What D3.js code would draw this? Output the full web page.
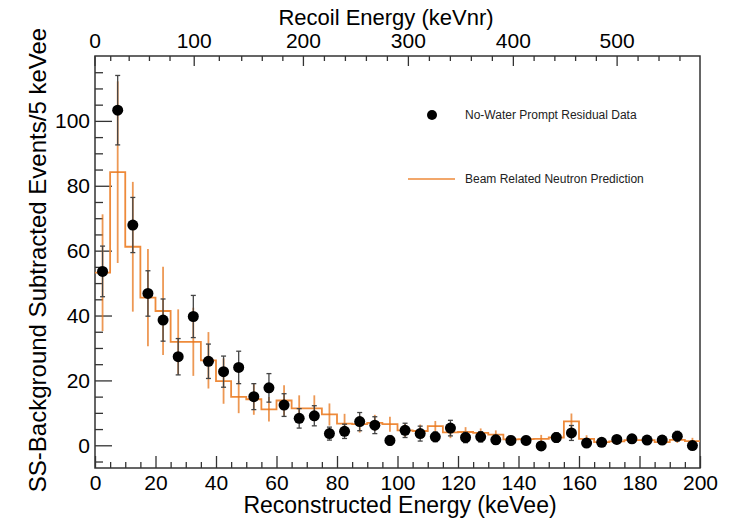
<!DOCTYPE html>
<html>
<head>
<meta charset="utf-8">
<script src="https://cdn.jsdelivr.net/npm/d3@7"></script>
<style>
  body { margin: 0; background: #fff; }
  text { font-family: "Liberation Sans", Arial, sans-serif; }
</style>
</head>
<body>
<div class="svg"></div>
<script>
const binLow = [0,5,10,15,20,25,30,35,40,45,50,55,60,65,70,75,80,85,90,95,
                100,105,110,115,120,125,130,135,140,145,150,155,160,165,170,175,180,185,190,195];
const binWidth = 5;

const dataVal = [53.6,103.3,67.9,46.8,38.6,27.3,39.7,25.9,22.7,24.0,
                 15.0,17.7,12.4,8.3,9.1,3.6,4.3,7.3,6.2,1.5,
                 4.6,3.6,2.6,5.3,2.4,2.6,1.7,1.5,1.5,-0.2,
                 2.4,3.8,0.7,0.9,1.8,2.0,1.6,1.6,2.8,-0.1];
const dataErr = [7.8,10.7,8.5,7.0,6.5,5.6,6.5,5.3,4.8,5.0,
                 4.0,4.4,3.5,3.0,3.1,2.0,2.2,2.8,2.6,1.5,
                 2.2,2.3,1.5,2.4,1.6,1.6,1.4,1.3,1.3,1.2,
                 1.5,2.3,1.1,1.0,1.2,1.2,1.2,1.2,1.5,1.1];

const predVal = [53.2,84.2,61.2,45.5,41.4,31.9,31.9,26.2,19.8,14.9,
                 14.2,11.1,13.8,11.4,11.4,9.5,6.7,6.5,6.9,6.5,
                 4.6,4.4,5.9,4.0,4.1,3.8,3.3,1.8,1.9,2.0,
                 2.4,7.4,2.0,1.0,1.2,1.6,1.6,1.0,1.7,1.3];
const predErr = [18,28,20,15,13.6,10,10.5,8.7,7,5,
                 4.8,3.8,4.7,4,4,3.4,3,2.6,2.5,2.3,
                 2,2,1.6,1.8,1.5,1.4,1.3,1.2,1.2,1.2,
                 1.3,2.4,1.1,0.9,1,1,1,0.9,1,1];

// recoil (keVnr) <-> reconstructed (keVee) conversion knots for top axis
const recoilNr = [0,20,40,60,80,100,120,140,200,300,400,500,580];
const recoilEe = [0,5.2,11.3,18.0,24.8,32.8,41.1,48.5,68.9,103.6,138.3,172.6,200.3];
const recoilMajor = [0,100,200,300,400,500];
const recoilMinor = [20,40,60,80,120,140,160,180,220,240,260,280,320,340,360,380,420,440,460,480,520,540,560];

const yMajor = [0,20,40,60,80,100];
const yMinor = [-5,5,10,15,25,30,35,45,50,55,65,70,75,85,90,95,105,110,115];
const xMajor = [0,20,40,60,80,100,120,140,160,180,200];
const xMinor = [5,10,15,25,30,35,45,50,55,65,70,75,85,90,95,105,110,115,125,130,135,145,150,155,165,170,175,185,190,195];

const legendLabels = ["No-Water Prompt Residual Data", "Beam Related Neutron Prediction"];

const w = 741, h = 518;
const mLeft = 95, mRight = 700, mTop = 56, mBottom = 468;
const orange = "#e8761c";

let svg = d3.select(".svg").append("svg").attr("width", w).attr("height", h);

let x = d3.scaleLinear().domain([0, 200]).range([mLeft, mRight]);
let y = d3.scaleLinear().domain([-7, 120]).range([mBottom, mTop]);
let nrToEe = d3.scaleLinear().domain(recoilNr).range(recoilEe);
let xTop = (nr) => x(nrToEe(nr));

let bins = binLow.map((b, i) => ({
  lo: b, c: b + binWidth / 2,
  v: dataVal[i], e: dataErr[i], p: predVal[i], pe: predErr[i]
}));

// axes with inward ticks
let axisStyle = (g) => {
  g.select(".domain").remove();
  g.selectAll("line").attr("stroke", "#333").attr("stroke-width", 1.3);
  g.selectAll("text").attr("font-size", 21).attr("fill", "#000");
};

svg.append("g").attr("transform", `translate(${mLeft},0)`)
  .call(d3.axisLeft(y).tickValues(yMinor).tickSize(-8).tickFormat(""))
  .call(axisStyle);
svg.append("g").attr("transform", `translate(${mLeft},0)`)
  .call(d3.axisLeft(y).tickValues(yMajor).tickSize(-17).tickPadding(5).tickFormat(d3.format("d")))
  .call(axisStyle);

svg.append("g").attr("transform", `translate(0,${mBottom})`)
  .call(d3.axisBottom(x).tickValues(xMinor).tickSize(-6).tickFormat(""))
  .call(axisStyle);
svg.append("g").attr("transform", `translate(0,${mBottom})`)
  .call(d3.axisBottom(x).tickValues(xMajor).tickSize(-12).tickPadding(7).tickFormat(d3.format("d")))
  .call(axisStyle);

// top recoil axis
let topAx = svg.append("g").attr("class", "top-axis");
topAx.selectAll(".tmin").data(recoilMinor).enter().append("line")
  .attr("x1", d => xTop(d)).attr("x2", d => xTop(d))
  .attr("y1", mTop).attr("y2", mTop + 5)
  .attr("stroke", "#333").attr("stroke-width", 1.3);
topAx.selectAll(".tmaj").data(recoilMajor).enter().append("line")
  .attr("x1", d => xTop(d)).attr("x2", d => xTop(d))
  .attr("y1", mTop).attr("y2", mTop + 10)
  .attr("stroke", "#333").attr("stroke-width", 1.3);
topAx.selectAll(".tlab").data(recoilMajor).enter().append("text")
  .attr("x", d => xTop(d)).attr("y", mTop - 8)
  .attr("text-anchor", "middle").attr("font-size", 21)
  .text(d => d);

// frame
svg.append("rect").attr("x", mLeft).attr("y", mTop)
  .attr("width", mRight - mLeft).attr("height", mBottom - mTop)
  .attr("fill", "none").attr("stroke", "#333").attr("stroke-width", 1.5);

let plot = svg.append("g");

// prediction histogram (step)
let stepPts = bins.map(d => [d.lo, d.p]);
stepPts.push([200, predVal[predVal.length - 1]]);
plot.append("path")
  .datum(stepPts)
  .attr("d", d3.line().x(d => x(d[0])).y(d => y(d[1])).curve(d3.curveStepAfter))
  .attr("fill", "none").attr("stroke", "#ee8a3a").attr("stroke-width", 1.8);

// prediction errors
plot.selectAll(".perr").data(bins).enter().append("line")
  .attr("x1", d => x(d.c)).attr("x2", d => x(d.c))
  .attr("y1", d => y(d.p - d.pe)).attr("y2", d => y(d.p + d.pe))
  .attr("stroke", orange).attr("stroke-width", 1.8).attr("opacity", 0.75);

// data error bars
let eb = plot.selectAll(".derr").data(bins).enter().append("g");
eb.append("line")
  .attr("x1", d => x(d.c)).attr("x2", d => x(d.c))
  .attr("y1", d => y(d.v - d.e)).attr("y2", d => y(d.v + d.e))
  .attr("stroke", "#444").attr("stroke-width", 1.3);
eb.append("line")
  .attr("x1", d => x(d.c) - 2.5).attr("x2", d => x(d.c) + 2.5)
  .attr("y1", d => y(d.v + d.e)).attr("y2", d => y(d.v + d.e))
  .attr("stroke", "#444").attr("stroke-width", 1.3);
eb.append("line")
  .attr("x1", d => x(d.c) - 2.5).attr("x2", d => x(d.c) + 2.5)
  .attr("y1", d => y(d.v - d.e)).attr("y2", d => y(d.v - d.e))
  .attr("stroke", "#444").attr("stroke-width", 1.3);

plot.selectAll(".dot").data(bins).enter().append("circle")
  .attr("cx", d => x(d.c)).attr("cy", d => y(d.v)).attr("r", 5.5)
  .attr("fill", "#000");

// legend
let legend = svg.append("g");
legend.append("circle").attr("cx", 432).attr("cy", 115).attr("r", 5).attr("fill", "#000");
legend.append("text").text(legendLabels[0]).attr("x", 465).attr("y", 119)
  .attr("font-size", 12).attr("fill", "#222");
legend.append("line").attr("x1", 408).attr("x2", 455).attr("y1", 179).attr("y2", 179)
  .attr("stroke", "#ee8a3a").attr("stroke-width", 1.5);
legend.append("text").text(legendLabels[1]).attr("x", 465).attr("y", 183)
  .attr("font-size", 12).attr("fill", "#222");

// titles
svg.append("text").text("Reconstructed Energy (keVee)")
  .attr("x", 400).attr("y", 513).attr("text-anchor", "middle").attr("font-size", 23);
svg.append("text").text("Recoil Energy (keVnr)")
  .attr("x", 386).attr("y", 25).attr("text-anchor", "middle").attr("font-size", 22);
svg.append("text").text("SS-Background Subtracted Events/5 keVee")
  .attr("transform", "translate(46,260) rotate(-90)")
  .attr("text-anchor", "middle").attr("font-size", 24);
</script>
</body>
</html>
